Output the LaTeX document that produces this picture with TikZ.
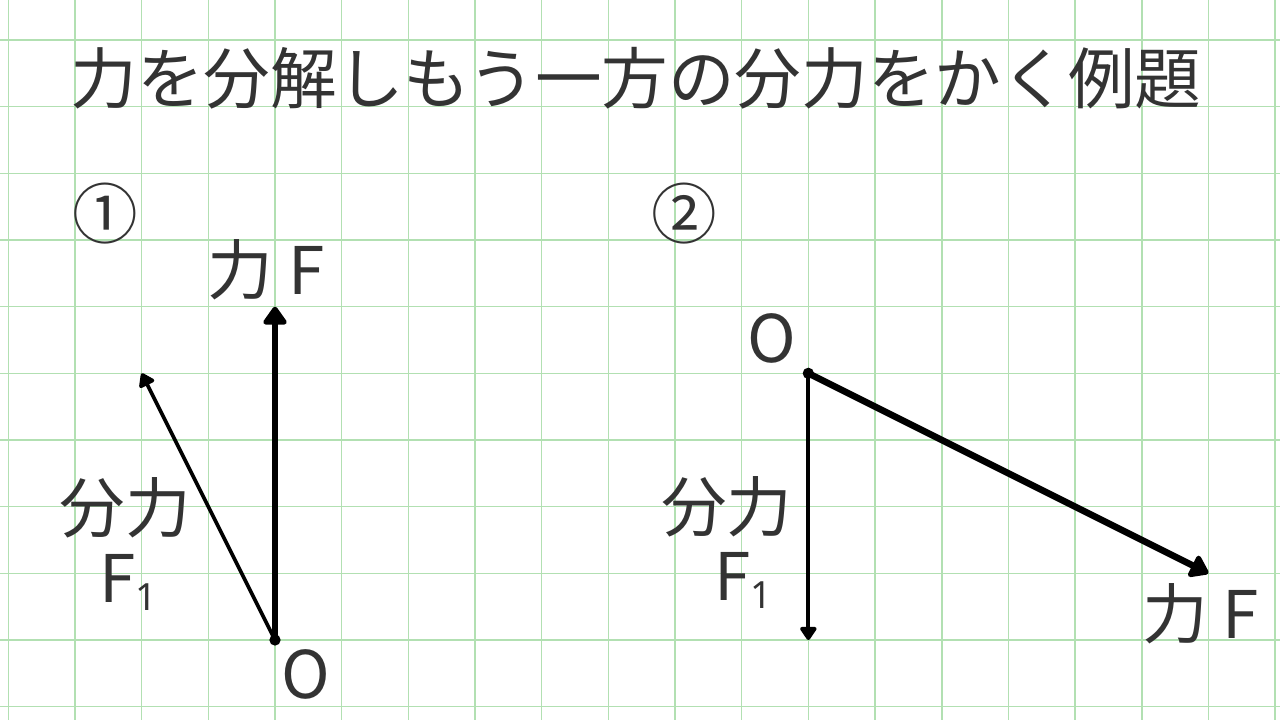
\documentclass[tikz,border=0pt]{standalone}
\usepackage{fontspec}
\setmainfont{Noto Sans CJK JP}
\newfontfamily\digitfont{Noto Sans}
\usepackage{tikz}
\usepackage{xcolor}
\usetikzlibrary{arrows.meta,positioning}
\definecolor{ink}{HTML}{333333}
\definecolor{gridgreen}{RGB}{178,224,178}
\newcommand\subone{\raisebox{-0.12cm}{\digitfont\fontsize{16}{16}\selectfont 1}}

\begin{document}
\begin{tikzpicture}[node distance=1cm,on grid,
    lbl/.style={text=ink,font=\fontsize{28}{30}\selectfont,inner sep=0pt},
    force/.style={line width=2.8pt,-{Triangle[round,length=3mm,width=4mm]}},
    part/.style={line width=1.6pt,-{Triangle[round,length=2.2mm,width=2.8mm]}},
    origin/.style={circle,fill=black,inner sep=0pt,minimum size=1.7mm}]
              \useasboundingbox (0,0) rectangle (19.2,10.8);
              \fill[white] (0,0) rectangle (19.2,10.8);
              \begin{scope}[shift={(0.125,0.2)}]
              \draw[gridgreen,line width=0.7pt] (-0.125,-0.2) grid (19.075,10.6);
              \end{scope}
              \node[lbl,font=\fontsize{28.45}{30}\selectfont](title) at (9.54,9.63){力を分解しもう一方の分力をかく例題};
              % 1
              \node[lbl](num_1) at (1.575,7.59){①};
              \coordinate (o_1) at (4.125,1.2);
              \coordinate[above=5cm of o_1] (f_1);
              \coordinate[above left=4cm and 2cm of o_1] (p_1);
              \draw[force] (o_1) -- (f_1);
              \draw[part] (o_1) -- (p_1);
              \node[origin] (dot_1) at (o_1) {};
              \node[lbl](lf_1) at (3.99,6.75){力 F};
              \node[lbl](lp_1) at (1.875,3.18){分力};
              \node[lbl](lps_1) at (1.92,2.07){F\subone};
              \node[lbl](lo_1) at (4.59,0.69){O};
              % 2
              \node[lbl](num_2) at (10.26,7.59){②};
              \coordinate (o_2) at (12.125,5.2);
              \coordinate[below=4cm of o_2] (p_2);
              \coordinate[below right=3cm and 6cm of o_2] (f_2);
              \draw[force] (o_2) -- (f_2);
              \draw[part] (o_2) -- (p_2);
              \node[origin] (dot_2) at (o_2) {};
              \node[lbl](lo_2) at (11.58,5.73){O};
              \node[lbl](lp_2) at (10.9,3.2){分力};
              \node[lbl](lps_2) at (11.15,2.1){F\subone};
              \node[lbl](lf_2) at (18.01,1.59){力 F};
          \end{tikzpicture}
\end{document}
